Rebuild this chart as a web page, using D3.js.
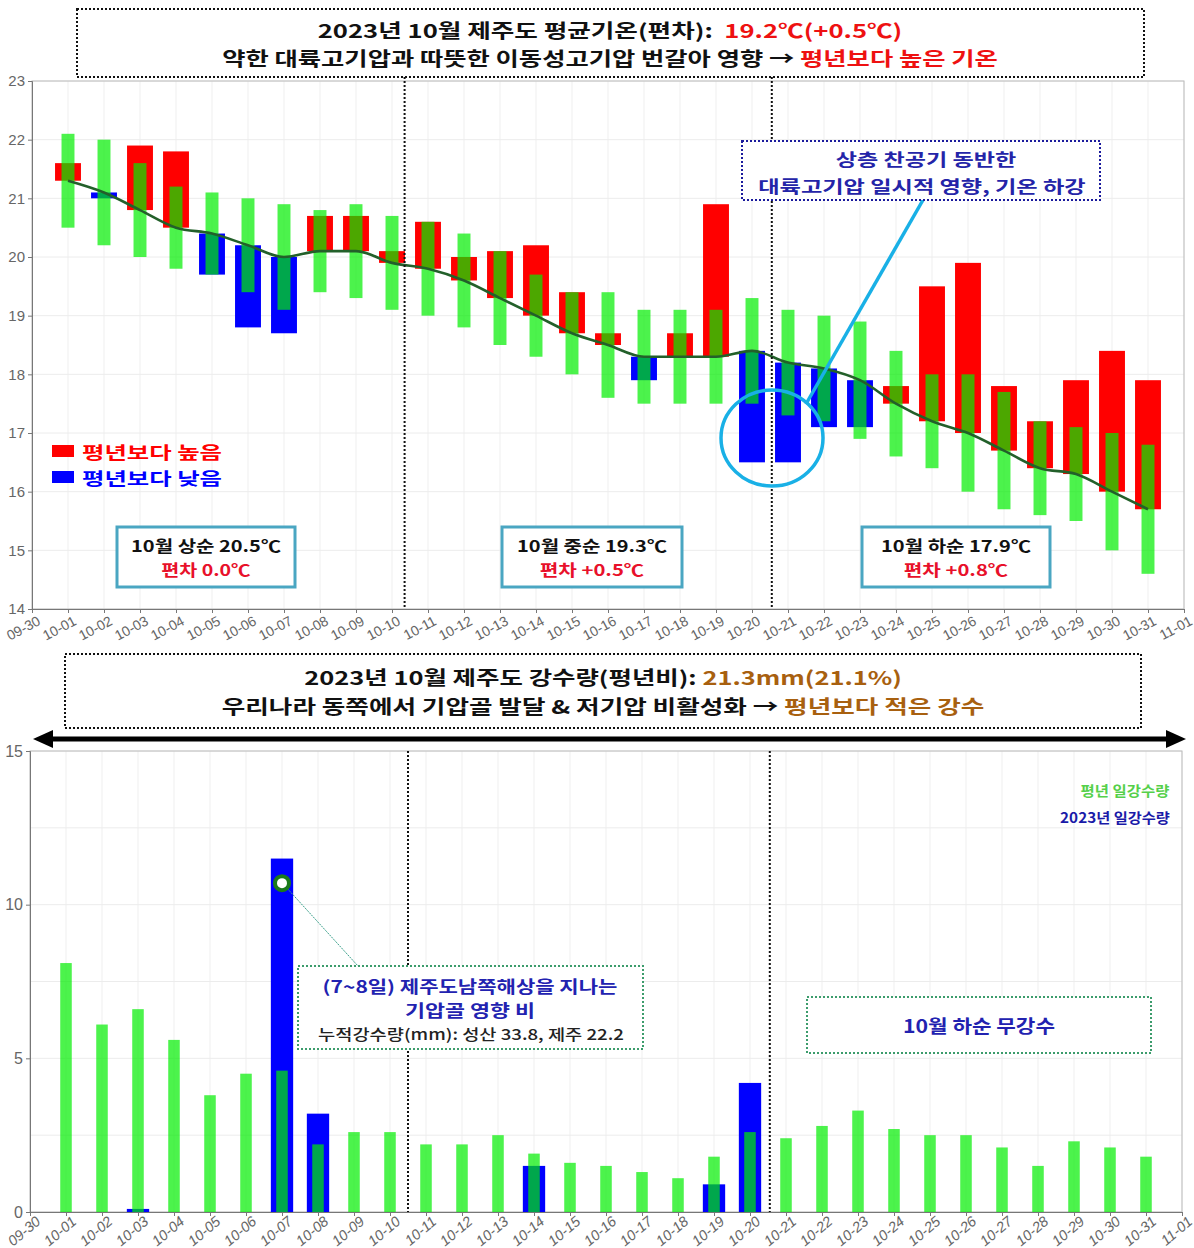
<!DOCTYPE html>
<html><head><meta charset="utf-8">
<script src="https://cdn.jsdelivr.net/npm/d3@7"></script>
<style>
html,body{margin:0;padding:0;background:#fff;}
svg{display:block;}
text{white-space:pre;}
</style></head><body>
<svg id="c" width="1194" height="1248"></svg>
<script>
// ---------------- DATA ----------------
const dates = ["10-01","10-02","10-03","10-04","10-05","10-06","10-07","10-08","10-09","10-10",
  "10-11","10-12","10-13","10-14","10-15","10-16","10-17","10-18","10-19","10-20",
  "10-21","10-22","10-23","10-24","10-25","10-26","10-27","10-28","10-29","10-30","10-31"];
const tickLabels = ["09-30", ...dates, "11-01"];
// daily mean temperature: normal (평년) and 2023 observed
const normalTemp = [21.3,21.1,20.8,20.5,20.4,20.2,20.0,20.1,20.1,19.9,
  19.8,19.6,19.3,19.0,18.7,18.5,18.3,18.3,18.3,18.4,
  18.2,18.1,17.9,17.5,17.2,17.0,16.7,16.4,16.3,16.0,15.7];
const obsTemp = [21.6,21.0,21.9,21.8,19.7,18.8,18.7,20.7,20.7,20.1,
  20.6,20.0,20.1,20.2,19.4,18.7,17.9,18.7,20.9,16.5,
  16.5,17.1,17.1,17.8,19.5,19.9,17.8,17.2,17.9,18.4,17.9];
// normal range (green bars)
const normalLow = [20.5,20.2,20.0,19.8,19.7,19.4,19.1,19.4,19.3,19.1,
  19.0,18.8,18.5,18.3,18.0,17.6,17.5,17.5,17.5,17.5,
  17.3,17.2,16.9,16.6,16.4,16.0,15.7,15.6,15.5,15.0,14.6];
const normalHigh = [22.1,22.0,21.6,21.2,21.1,21.0,20.9,20.8,20.9,20.7,
  20.6,20.4,20.1,19.7,19.4,19.4,19.1,19.1,19.1,19.3,
  19.1,19.0,18.9,18.4,18.0,18.0,17.7,17.2,17.1,17.0,16.8];
const tempTicks = [14,15,16,17,18,19,20,21,22,23];
// daily precipitation (mm)
const normalPrecip = [8.1,6.1,6.6,5.6,3.8,4.5,4.6,2.2,2.6,2.6,
  2.2,2.2,2.5,1.9,1.6,1.5,1.3,1.1,1.8,2.6,
  2.4,2.8,3.3,2.7,2.5,2.5,2.1,1.5,2.3,2.1,1.8];
const precip2023 = [0,0,0.1,0,0,0,11.5,3.2,0,0,
  0,0,0,1.5,0,0,0,0,0.9,4.2,
  0,0,0,0,0,0,0,0,0,0,0];
const precipTicks = [0,5,10,15];
const decades = [
  {name:"10월 상순 20.5℃", dev:"편차 0.0℃"},
  {name:"10월 중순 19.3℃", dev:"편차 +0.5℃"},
  {name:"10월 하순 17.9℃", dev:"편차 +0.8℃"}
];

// ---------------- HELPERS ----------------
const svg = d3.select("#c");
const KR = "'Noto Sans CJK KR','Noto Sans',sans-serif";
const NUM = "'Liberation Sans Narrow','Liberation Sans',Arial,sans-serif";
const GREEN = "rgb(0,238,0)", GOP = 0.7;

function label(cx, cy, parts, size, target, weight) {
  const t = svg.append("text").attr("x", cx).attr("y", cy)
    .attr("text-anchor","middle").attr("dominant-baseline","central")
    .attr("font-family", KR).attr("font-weight", weight || 700).attr("font-size", size);
  parts.forEach(p => t.append("tspan").attr("fill", p[1]).text(p[0]));
  if (target) {
    const bb = t.node().getBBox();
    const c = bb.x + bb.width/2, s = target / bb.width;
    t.attr("transform", `translate(${c},0) scale(${s},1) translate(${-c},0)`);
  }
  return t;
}
function box(x0,y0,x1,y1,color,width,dash){
  svg.append("rect").attr("x",x0).attr("y",y0).attr("width",x1-x0).attr("height",y1-y0)
    .attr("fill","none").attr("stroke",color).attr("stroke-width",width)
    .attr("stroke-dasharray",dash||null);
}

// ---------------- TOP CHART ----------------
const xT = d3.scaleLinear().domain([0,32]).range([32,1184]);
const yT = d3.scaleLinear().domain([14,23]).range([609,81]);
const gT = svg.append("g");
// grid
gT.selectAll(".vg").data(d3.range(33)).join("line")
  .attr("x1",d=>xT(d)).attr("x2",d=>xT(d)).attr("y1",yT(23)).attr("y2",yT(14))
  .attr("stroke","#efefef").attr("stroke-width",1);
gT.selectAll(".hg").data(tempTicks).join("line")
  .attr("x1",xT(0)).attr("x2",xT(32)).attr("y1",d=>yT(d)).attr("y2",d=>yT(d))
  .attr("stroke","#ececec").attr("stroke-width",1);
// border
gT.append("rect").attr("x",xT(0)).attr("y",yT(23)).attr("width",xT(32)-xT(0)).attr("height",yT(14)-yT(23))
  .attr("fill","none").attr("stroke","#bbb").attr("stroke-width",1);

const idx = d3.range(31);
const bwT = xT(0.72)-xT(0), gwT = xT(0.36)-xT(0);
gT.selectAll(".dev").data(idx).join("rect")
  .attr("x",i=>xT(i+1)-bwT/2).attr("width",bwT)
  .attr("y",i=>yT(Math.max(obsTemp[i],normalTemp[i])))
  .attr("height",i=>Math.abs(yT(obsTemp[i])-yT(normalTemp[i])))
  .attr("fill",i=>obsTemp[i]>=normalTemp[i]?"#ff0000":"#0000ff");
gT.selectAll(".rng").data(idx).join("rect")
  .attr("x",i=>xT(i+1)-gwT/2).attr("width",gwT)
  .attr("y",i=>yT(normalHigh[i])).attr("height",i=>yT(normalLow[i])-yT(normalHigh[i]))
  .attr("fill",GREEN).attr("fill-opacity",GOP);
gT.append("path").datum(idx)
  .attr("d", d3.line().x(i=>xT(i+1)).y(i=>yT(normalTemp[i])).curve(d3.curveMonotoneX))
  .attr("fill","none").attr("stroke","#23602a").attr("stroke-width",2.6);

// axes
const axT = gT.append("g").attr("transform",`translate(0,${yT(14)})`)
  .call(d3.axisBottom(xT).tickValues(d3.range(33)).tickFormat(i=>tickLabels[i]).tickSize(4));
axT.select(".domain").attr("stroke","#777");
axT.selectAll(".tick line").attr("stroke","#777");
axT.selectAll("text").attr("font-family",NUM).attr("font-size",14).attr("fill","#666")
  .attr("text-anchor","end").attr("dy",null).attr("y",null)
  .attr("transform","translate(9,15) rotate(-28)");
const ayT = gT.append("g").attr("transform",`translate(${xT(0)},0)`)
  .call(d3.axisLeft(yT).tickValues(tempTicks).tickFormat(d3.format("d")).tickSize(4));
ayT.select(".domain").attr("stroke","#777");
ayT.selectAll(".tick line").attr("stroke","#777");
ayT.selectAll("text").attr("font-family",NUM).attr("font-size",15).attr("fill","#666");

// decade dividers
[10.35,20.55].forEach(d=>{
  gT.append("line").attr("x1",xT(d)).attr("x2",xT(d)).attr("y1",yT(23)-4).attr("y2",yT(14))
    .attr("stroke","#111").attr("stroke-width",2).attr("stroke-dasharray","2,2");
});

// legend
[["평년보다 높음","#ff0000",451],["평년보다 낮음","#0000ff",477]].forEach(l=>{
  svg.append("rect").attr("x",52).attr("y",l[2]-6).attr("width",22).attr("height",12).attr("fill",l[1]);
  label(152, l[2], [[l[0], l[1]]], 17.5, 140);
});

// decade boxes
const dbx = [[117,295],[502,682],[862,1050]];
decades.forEach((d,i)=>{
  svg.append("rect").attr("x",dbx[i][0]).attr("y",527).attr("width",dbx[i][1]-dbx[i][0]).attr("height",60)
    .attr("fill","#fff").attr("stroke","#4aa6c2").attr("stroke-width",3);
  const cx = (dbx[i][0]+dbx[i][1])/2;
  label(cx, 545, [[d.name,"#111"]], 16, 150);
  label(cx, 569, [[d.dev,"#e8102a"]], 15.5, i===0?90:105);
});

// annotation circle + line
svg.append("ellipse").attr("cx",772).attr("cy",438).attr("rx",51).attr("ry",48)
  .attr("fill","none").attr("stroke","#19b0e6").attr("stroke-width",3.5);
svg.append("line").attr("x1",806).attr("y1",404).attr("x2",923).attr("y2",200)
  .attr("stroke","#19b0e6").attr("stroke-width",3.5);
svg.append("rect").attr("x",742).attr("y",141).attr("width",358).attr("height",59)
  .attr("fill","#fff").attr("stroke","#1a1a9c").attr("stroke-width",2).attr("stroke-dasharray","2,2");
label(926, 158, [["상층 찬공기 동반한","#2424a8"]], 17, 181);
label(922, 185, [["대륙고기압 일시적 영향, 기온 하강","#2424a8"]], 17, 328);

// title 1
box(77,9,1144,77,"#111",2,"2,2");
label(610, 30, [["2023년 10월 제주도 평균기온(편차):  ","#111"],["19.2℃(+0.5℃)","#ee1111"]], 19, 585);
label(610, 58, [["약한 대륙고기압과 따뜻한 이동성고기압 번갈아 영향 → ","#111"],["평년보다 높은 기온","#ee1111"]], 19, 776);

// ---------------- BOTTOM CHART ----------------
const xB = d3.scaleLinear().domain([0,32]).range([30,1182]);
const yB = d3.scaleLinear().domain([0,15]).range([1212,751]);
const gB = svg.append("g");
gB.selectAll(".vg").data(d3.range(33)).join("line")
  .attr("x1",d=>xB(d)).attr("x2",d=>xB(d)).attr("y1",yB(15)).attr("y2",yB(0))
  .attr("stroke","#efefef").attr("stroke-width",1);
gB.selectAll(".hg").data(d3.range(0,15.1,2.5)).join("line")
  .attr("x1",xB(0)).attr("x2",xB(32)).attr("y1",d=>yB(d)).attr("y2",d=>yB(d))
  .attr("stroke","#ececec").attr("stroke-width",1);
gB.append("rect").attr("x",xB(0)).attr("y",yB(15)).attr("width",xB(32)-xB(0)).attr("height",yB(0)-yB(15))
  .attr("fill","none").attr("stroke","#bbb").attr("stroke-width",1);

const bwB = xB(0.62)-xB(0), gwB = xB(0.32)-xB(0);
gB.selectAll(".p23").data(idx.filter(i=>precip2023[i]>0)).join("rect")
  .attr("x",i=>xB(i+1)-bwB/2).attr("width",bwB)
  .attr("y",i=>yB(precip2023[i])).attr("height",i=>Math.max(2,yB(0)-yB(precip2023[i])))
  .attr("fill","#0000ff");
gB.selectAll(".pn").data(idx).join("rect")
  .attr("x",i=>xB(i+1)-gwB/2).attr("width",gwB)
  .attr("y",i=>yB(normalPrecip[i])).attr("height",i=>yB(0)-yB(normalPrecip[i]))
  .attr("fill",GREEN).attr("fill-opacity",GOP);

const axB = gB.append("g").attr("transform",`translate(0,${yB(0)})`)
  .call(d3.axisBottom(xB).tickValues(d3.range(33)).tickFormat(i=>tickLabels[i]).tickSize(4));
axB.select(".domain").attr("stroke","#777");
axB.selectAll(".tick line").attr("stroke","#777");
axB.selectAll("text").attr("font-family",NUM).attr("font-size",14.5).attr("fill","#666").attr("font-style","italic")
  .attr("text-anchor","end").attr("dy",null).attr("y",null)
  .attr("transform","translate(11,11) rotate(-40)");
const ayB = gB.append("g").attr("transform",`translate(${xB(0)},0)`)
  .call(d3.axisLeft(yB).tickValues(precipTicks).tickFormat(d3.format("d")).tickSize(4));
ayB.select(".domain").attr("stroke","#777");
ayB.selectAll(".tick line").attr("stroke","#777");
ayB.selectAll("text").attr("font-family",NUM).attr("font-size",16).attr("fill","#666");

[10.5,20.55].forEach(d=>{
  gB.append("line").attr("x1",xB(d)).attr("x2",xB(d)).attr("y1",yB(15)).attr("y2",yB(0))
    .attr("stroke","#111").attr("stroke-width",2).attr("stroke-dasharray","2,2");
});

// legend bottom
label(1125, 789, [["평년 일강수량","#55d04a"]], 14, 89);
label(1115, 816, [["2023년 일강수량","#1a1aa8"]], 14, 110);

// rain annotation
gB.append("line").attr("x1",xB(7)+5).attr("y1",yB(10.7)+5).attr("x2",358).attr("y2",966)
  .attr("stroke","#3aa08a").attr("stroke-width",1).attr("stroke-dasharray","2,1");
gB.append("circle").attr("cx",xB(7)).attr("cy",yB(10.7)).attr("r",7)
  .attr("fill","#fff").attr("stroke","#1b7a1b").attr("stroke-width",4);
svg.append("rect").attr("x",298).attr("y",966).attr("width",345).attr("height",83)
  .attr("fill","#fff").attr("stroke","#3c9c6c").attr("stroke-width",2).attr("stroke-dasharray","2,2");
label(470, 985, [["(7~8일) 제주도남쪽해상을 지나는","#2222b0"]], 16.5, 295);
label(470, 1010, [["기압골 영향 비","#2222b0"]], 16.5, 130);
label(471, 1033, [["누적강수량(mm): 성산 33.8, 제주 22.2","#222"]], 15, 306, 500);

svg.append("rect").attr("x",807).attr("y",997).attr("width",344).attr("height",56)
  .attr("fill","#fff").attr("stroke","#3c9c6c").attr("stroke-width",2).attr("stroke-dasharray","2,2");
label(979, 1025, [["10월 하순 무강수","#2222b0"]], 18, 152);

// double arrow
svg.append("line").attr("x1",48).attr("x2",1171).attr("y1",739).attr("y2",739)
  .attr("stroke","#000").attr("stroke-width",5);
svg.append("path").attr("d","M33,739 L53,730 L53,748 Z").attr("fill","#000");
svg.append("path").attr("d","M1186,739 L1166,730 L1166,748 Z").attr("fill","#000");

// title 2
box(65,654,1141,728,"#111",2,"2,2");
label(603, 677, [["2023년 10월 제주도 강수량(평년비): ","#111"],["21.3mm(21.1%)","#a8600f"]], 19, 598);
label(603, 706, [["우리나라 동쪽에서 기압골 발달 & 저기압 비활성화 → ","#111"],["평년보다 적은 강수","#a8600f"]], 19, 763);
</script>
</body></html>
